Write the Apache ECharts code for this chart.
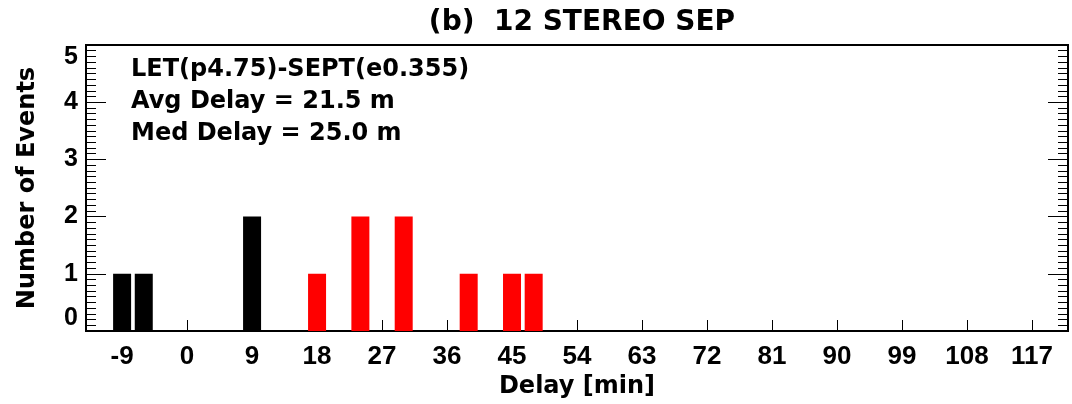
<!DOCTYPE html>
<html>
<head>
<meta charset="utf-8">
<script src="https://cdn.jsdelivr.net/npm/echarts@6/dist/echarts.min.js"></script>
<style>
html,body{margin:0;padding:0;background:#fff;}
#chart{width:1072px;height:404px;}
</style>
</head>
<body>
<div id="chart"></div>
<script>
const titleText = '(b)  12 STEREO SEP';
const xName = 'Delay [min]';
const yName = 'Number of Events';
const noteLines = ['LET(p4.75)-SEPT(e0.355)', 'Avg Delay = 21.5 m', 'Med Delay = 25.0 m'];
const blackDelays = [-9, -6, 9];
const blackCounts = [1, 1, 2];
const redDelays = [18, 24, 30, 39, 45, 48];
const redCounts = [1, 2, 2, 1, 1, 1];
const xTicks = [-9, 0, 9, 18, 27, 36, 45, 54, 63, 72, 81, 90, 99, 108, 117];
const xMin = -14, xMax = 122;
const yMin = 0, yMax = 5;

const blackData = blackDelays.map((d, i) => [d, blackCounts[i]]);
const redData = redDelays.map((d, i) => [d, redCounts[i]]);

const chart = echarts.init(document.getElementById('chart'), null, {renderer: 'canvas'});
const nameFont = {fontFamily: 'DejaVu Sans', fontWeight: 'bold', fontSize: 24, color: '#000'};
const yAxisCommon = {
  type: 'value', min: yMin, max: yMax, interval: 1,
  axisLine: {show: true, onZero: false, lineStyle: {color: '#000', width: 2}},
  axisTick: {show: true, inside: true, length: 20, lineStyle: {color: '#000', width: 1}},
  minorTick: {show: true, splitNumber: 10, length: 10, lineStyle: {color: '#000', width: 1}},
  splitLine: {show: false}
};
chart.setOption({
  backgroundColor: '#fff',
  animation: false,
  title: {
    text: titleText, left: 577, top: 4, textAlign: 'center',
    textStyle: {fontFamily: 'DejaVu Sans', fontWeight: 'bold', fontSize: 28, color: '#000'}
  },
  grid: {left: 86, right: 4, top: 45, bottom: 71, show: true, borderColor: '#000', borderWidth: 2, backgroundColor: 'transparent'},
  xAxis: {
    type: 'value', min: xMin, max: xMax,
    name: xName, nameLocation: 'middle', nameGap: 44, nameTextStyle: nameFont,
    axisLine: {show: true, onZero: false, lineStyle: {color: '#000', width: 2}},
    axisTick: {show: true, inside: true, length: 11, customValues: xTicks, lineStyle: {color: '#000', width: 1}},
    axisLabel: {show: true, customValues: xTicks, margin: 13, fontFamily: 'Liberation Sans', fontWeight: 'bold', fontSize: 26, color: '#000'},
    splitLine: {show: false}
  },
  yAxis: [
    Object.assign({}, yAxisCommon, {
      position: 'left',
      name: yName, nameLocation: 'middle', nameGap: 46, nameRotate: 90, nameTextStyle: nameFont,
      axisLabel: {show: true, margin: 8, fontFamily: 'Liberation Sans', fontWeight: 'bold', fontSize: 25, color: '#000',
        verticalAlignMinLabel: 'bottom', verticalAlignMaxLabel: 'top'}
    }),
    Object.assign({}, yAxisCommon, {position: 'right', axisLabel: {show: false}})
  ],
  graphic: noteLines.map((t, i) => ({
    type: 'text', left: 131, top: 58 + i * 32, z: 10,
    style: {text: t, fontFamily: 'DejaVu Sans', fontWeight: 'bold', fontSize: 24, fill: '#000'}
  })),
  series: [
    {type: 'bar', stack: 'all', data: blackData, barWidth: 18, itemStyle: {color: '#000'}, yAxisIndex: 0},
    {type: 'bar', stack: 'all', data: redData, barWidth: 18, itemStyle: {color: '#ff0000'}, yAxisIndex: 0}
  ]
});
</script>
</body>
</html>
